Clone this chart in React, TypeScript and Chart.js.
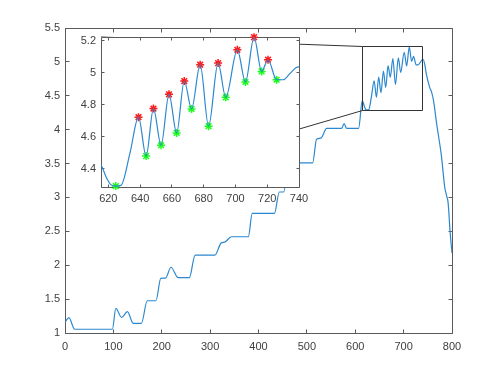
import React, { useEffect, useRef } from "react";
import { Chart, registerables } from "chart.js";
Chart.register(...registerables);

// ---- data ----
const curveX = [1, 8, 20, 98, 105, 117, 129, 141, 158, 170, 188, 198, 208, 219, 234, 257, 269, 310, 323, 330, 344, 379, 387, 433, 443, 452, 462, 512, 520, 529, 541, 572, 577, 582, 607, 614.5, 619, 621.5, 628, 633.7, 730, 734, 738, 740.5, 744, 747, 754, 758, 762, 768, 778, 785, 789, 792, 796, 800];
const curveY = [1.17, 1.226, 1.055, 1.055, 1.364, 1.23, 1.314, 1.143, 1.143, 1.476, 1.476, 1.807, 1.81, 1.97, 1.816, 1.816, 2.15, 2.15, 2.33, 2.34, 2.42, 2.42, 2.765, 2.765, 3.08, 3.08, 3.51, 3.51, 3.86, 3.875, 4.02, 4.02, 4.09, 4.02, 4.02, 4.43, 4.34, 4.3, 4.295, 4.5, 4.955, 4.99, 5.03, 5.035, 4.95, 4.82, 4.62, 4.55, 4.42, 4.1, 3.62, 3.15, 3.02, 2.92, 2.5, 2.18];

const peakX = [639.0, 648.4, 658.2, 667.8, 677.8, 689.1, 701.2, 711.7, 720.5];
const peakY = [4.721, 4.775, 4.864, 4.947, 5.049, 5.059, 5.142, 5.221, 5.08];
const troughX = [624.7, 643.8, 653.2, 663.0, 672.4, 683.1, 693.9, 706.3, 716.5, 725.9];
const troughY = [4.291, 4.478, 4.546, 4.623, 4.773, 4.665, 4.845, 4.941, 5.007, 4.955];

const mainXLim = [0, 800];
const mainYLim = [1, 5.5];
const mainXTicks = [0, 100, 200, 300, 400, 500, 600, 700, 800];
const mainYTicks = [1, 1.5, 2, 2.5, 3, 3.5, 4, 4.5, 5, 5.5];

const insetXLim = [615.4, 740];
const insetYLim = [4.285, 5.222];
const insetXTicks = [620, 640, 660, 680, 700, 720, 740];
const insetYTicks = [4.4, 4.6, 4.8, 5, 5.2];

// ---- layout ----
const W = 500, H = 375;
const MAIN = { left: 65, top: 28, right: 452, bottom: 333 };
const INSET = { left: 101, top: 37, right: 299, bottom: 187 };

const FONT = "'Liberation Sans', Arial, Helvetica, sans-serif";
const LINE_COLOR = "#2b88cf";
const AXIS_COLOR = "#5a5a5a";
const TEXT_COLOR = "#404040";

function pts(xs: number[], ys: number[]) {
  return xs.map((x, i) => ({ x, y: ys[i] }));
}
const lineData = [...pts(curveX, curveY), ...pts(peakX, peakY), ...pts(troughX, troughY)].sort((a, b) => a.x - b.x);

const px = (v: number) => Math.floor(v) + 0.5;

function drawFrame(chart: any, tickLen: number) {
  const { ctx, chartArea: a, scales } = chart;
  const L = px(a.left), R = px(a.right), T = px(a.top), B = px(a.bottom);
  ctx.save();
  ctx.strokeStyle = AXIS_COLOR;
  ctx.lineWidth = 1;
  ctx.beginPath();
  ctx.rect(L, T, R - L, B - T);
  scales.x.ticks.forEach((t: any) => {
    const x = px(scales.x.getPixelForValue(t.value));
    ctx.moveTo(x, B); ctx.lineTo(x, B - tickLen);
    ctx.moveTo(x, T); ctx.lineTo(x, T + tickLen);
  });
  scales.y.ticks.forEach((t: any) => {
    const y = px(scales.y.getPixelForValue(t.value));
    ctx.moveTo(L, y); ctx.lineTo(L + tickLen, y);
    ctx.moveTo(R, y); ctx.lineTo(R - tickLen, y);
  });
  ctx.stroke();
  ctx.restore();
}

function axisOpts(lim: number[], ticks: number[], kind: "x" | "y", size: number, pad: number) {
  return {
    type: "linear" as const,
    min: lim[0],
    max: lim[1],
    afterBuildTicks: (s: any) => { s.ticks = ticks.map((v) => ({ value: v })); },
    afterFit: (s: any) => { if (kind === "y") s.width = size; else s.height = size; },
    grid: { display: false, drawTicks: false },
    border: { display: false },
    ticks: {
      color: TEXT_COLOR,
      font: { family: FONT, size: 11 },
      padding: pad,
      maxRotation: 0,
      autoSkip: false,
      callback: (v: any) => String(Math.round(v * 1000) / 1000),
    },
  };
}

export default function App() {
  const mainRef = useRef<HTMLCanvasElement>(null);
  const insetRef = useRef<HTMLCanvasElement>(null);

  useEffect(() => {
    const main = new Chart(mainRef.current!, {
      type: "line",
      data: {
        datasets: [{
          data: lineData,
          borderColor: LINE_COLOR,
          borderWidth: 1.2,
          pointRadius: 0,
          cubicInterpolationMode: "monotone",
          fill: false,
        }],
      },
      options: {
        responsive: false,
        animation: false,
        events: [],
        layout: { padding: { left: 0, top: MAIN.top, right: W - MAIN.right, bottom: 0 } },
        plugins: { legend: { display: false }, tooltip: { enabled: false } },
        scales: {
          x: axisOpts(mainXLim, mainXTicks, "x", H - MAIN.bottom, 7),
          y: axisOpts(mainYLim, mainYTicks, "y", MAIN.left, 5),
        },
      },
      plugins: [{
        id: "mainFrame",
        beforeDatasetsDraw: (c: any) => drawFrame(c, 4),
        afterDatasetsDraw: (c: any) => {
          const { ctx, scales } = c;
          const x0 = px(scales.x.getPixelForValue(insetXLim[0]));
          const x1 = px(scales.x.getPixelForValue(insetXLim[1]));
          const y0 = px(scales.y.getPixelForValue(insetYLim[1]));
          const y1 = px(scales.y.getPixelForValue(insetYLim[0]));
          ctx.save();
          ctx.strokeStyle = "#333333";
          ctx.lineWidth = 1;
          ctx.beginPath();
          ctx.rect(x0, y0, x1 - x0, y1 - y0);
          ctx.moveTo(INSET.left, INSET.top); ctx.lineTo(x0, y0);
          ctx.moveTo(INSET.left, INSET.bottom); ctx.lineTo(x0, y1);
          ctx.stroke();
          ctx.restore();
        },
      }],
    } as any);

    const inset = new Chart(insetRef.current!, {
      type: "line",
      data: {
        datasets: [
          {
            data: lineData,
            borderColor: LINE_COLOR,
            borderWidth: 1.2,
            pointRadius: 0,
            cubicInterpolationMode: "monotone",
            fill: false,
            clip: 0,
          },
          {
            data: pts(peakX, peakY),
            showLine: false,
            pointStyle: "star",
            pointRadius: 4,
            pointBorderWidth: 1.5,
            pointBorderColor: "#ff1a1a",
            pointBackgroundColor: "#ff1a1a",
            clip: false,
          },
          {
            data: pts(troughX, troughY),
            showLine: false,
            pointStyle: "star",
            pointRadius: 4,
            pointBorderWidth: 1.5,
            pointBorderColor: "#1aff1a",
            pointBackgroundColor: "#1aff1a",
            clip: false,
          },
        ],
      },
      options: {
        responsive: false,
        animation: false,
        events: [],
        layout: { padding: { left: 0, top: INSET.top, right: W - INSET.right, bottom: 0 } },
        plugins: { legend: { display: false }, tooltip: { enabled: false } },
        scales: {
          x: axisOpts(insetXLim, insetXTicks, "x", H - INSET.bottom, 5),
          y: axisOpts(insetYLim, insetYTicks, "y", INSET.left, 5),
        },
      },
      plugins: [{
        id: "insetFrame",
        beforeDraw: (c: any) => {
          const { ctx, chartArea: a } = c;
          ctx.save();
          ctx.fillStyle = "#ffffff";
          ctx.fillRect(a.left, a.top, a.right - a.left, a.bottom - a.top);
          ctx.restore();
        },
        beforeDatasetsDraw: (c: any) => drawFrame(c, 3),
      }],
    } as any);

    return () => { main.destroy(); inset.destroy(); };
  }, []);

  const cv: React.CSSProperties = { position: "absolute", left: 0, top: 0, width: W, height: H };
  return (
    <div style={{ position: "absolute", left: 0, top: 0, width: W, height: H, background: "#ffffff" }}>
      <canvas ref={mainRef} width={W} height={H} style={cv} />
      <canvas ref={insetRef} width={W} height={H} style={cv} />
    </div>
  );
}
